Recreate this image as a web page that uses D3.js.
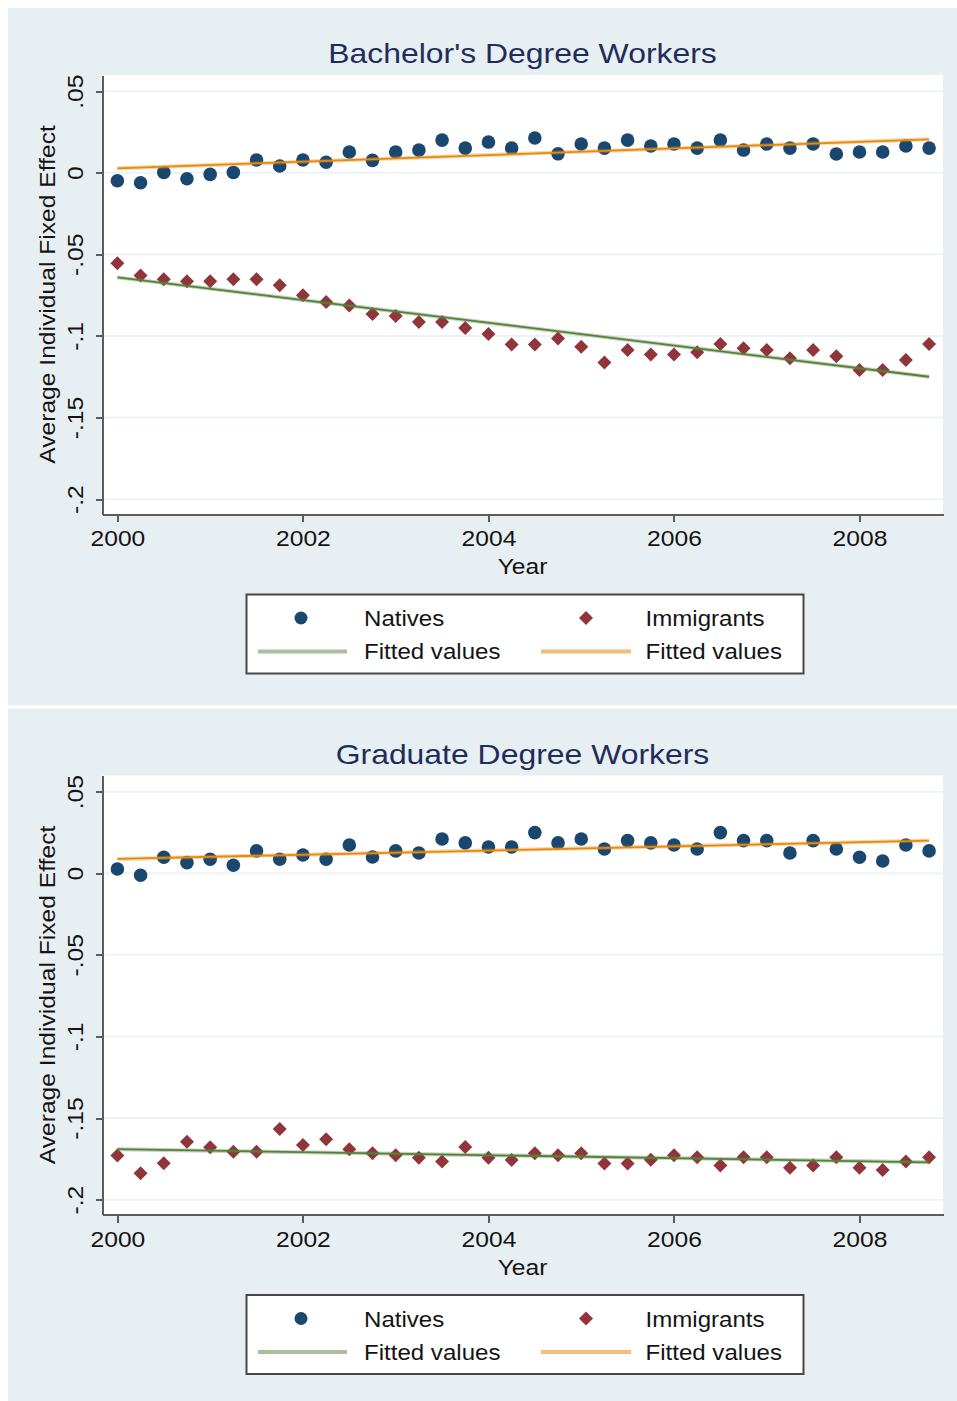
<!DOCTYPE html>
<html>
<head>
<meta charset="utf-8">
<script src="https://cdn.jsdelivr.net/npm/d3@7"></script>
<style>
  html, body { margin: 0; padding: 0; background: #ffffff; }
  svg { display: block; }
</style>
</head>
<body>
<svg id="chart" width="957" height="1401"></svg>
<script>
// Quarterly observation dates
const years = [2000, 2000.25, 2000.5, 2000.75, 2001, 2001.25, 2001.5, 2001.75,
               2002, 2002.25, 2002.5, 2002.75, 2003, 2003.25, 2003.5, 2003.75,
               2004, 2004.25, 2004.5, 2004.75, 2005, 2005.25, 2005.5, 2005.75,
               2006, 2006.25, 2006.5, 2006.75, 2007, 2007.25, 2007.5, 2007.75,
               2008, 2008.25, 2008.5, 2008.75];

const xTicks = [2000, 2002, 2004, 2006, 2008];
const yTicks = [0.05, 0, -0.05, -0.1, -0.15, -0.2];
const yTickLabels = [".05", "0", "-.05", "-.1", "-.15", "-.2"];

const panelTitles = ["Bachelor's Degree Workers", "Graduate Degree Workers"];
const legendLabels = ["Natives", "Immigrants", "Fitted values", "Fitted values"];

// Bachelor's degree workers
const bachelorNatives = [-0.0049, -0.0061, 0.0002, -0.0037, -0.0010, 0.0002, 0.0078, 0.0041,
                         0.0078, 0.0064, 0.0127, 0.0076, 0.0127, 0.0139, 0.0200, 0.0151,
                         0.0188, 0.0151, 0.0213, 0.0116, 0.0176, 0.0151, 0.0200, 0.0164,
                         0.0176, 0.0151, 0.0200, 0.0139, 0.0176, 0.0151, 0.0176, 0.0115,
                         0.0127, 0.0127, 0.0164, 0.0151];
const bachelorImmigrants = [-0.0555, -0.0629, -0.0653, -0.0665, -0.0665, -0.0653, -0.0653, -0.0690,
                            -0.0751, -0.0792, -0.0813, -0.0866, -0.0878, -0.0915, -0.0915, -0.0952,
                            -0.0988, -0.1052, -0.1052, -0.1015, -0.1066, -0.1162, -0.1086, -0.1113,
                            -0.1113, -0.1100, -0.1050, -0.1076, -0.1086, -0.1137, -0.1086, -0.1125,
                            -0.1209, -0.1209, -0.1148, -0.1050];

// Graduate degree workers
const graduateNatives = [0.0026, -0.0012, 0.0098, 0.0065, 0.0086, 0.0049, 0.0137, 0.0086,
                         0.0112, 0.0086, 0.0173, 0.0100, 0.0137, 0.0124, 0.0210, 0.0186,
                         0.0161, 0.0161, 0.0249, 0.0186, 0.0210, 0.0149, 0.0200, 0.0186,
                         0.0173, 0.0149, 0.0249, 0.0200, 0.0200, 0.0124, 0.0200, 0.0149,
                         0.0098, 0.0075, 0.0173, 0.0137];
const graduateImmigrants = [-0.1730, -0.1838, -0.1777, -0.1645, -0.1679, -0.1706, -0.1706, -0.1567,
                            -0.1665, -0.1630, -0.1691, -0.1716, -0.1728, -0.1743, -0.1767, -0.1677,
                            -0.1743, -0.1757, -0.1716, -0.1728, -0.1716, -0.1779, -0.1779, -0.1755,
                            -0.1728, -0.1740, -0.1791, -0.1740, -0.1740, -0.1804, -0.1791, -0.1740,
                            -0.1804, -0.1818, -0.1767, -0.1740];

// Linear fit end points
const fitYears = [2000, 2008.75];
const bachelorNativesFit = [0.0027, 0.0205];
const bachelorImmigrantsFit = [-0.0641, -0.1250];
const graduateNativesFit = [0.0088, 0.0200];
const graduateImmigrantsFit = [-0.1691, -0.1771];

const COLORS = {
  panel: "#e8eff2",
  plot: "#ffffff",
  grid: "#edf3f5",
  axis: "#5c5c5c",
  title: "#1f2d5c",
  text: "#141414",
  natives: "#1a476f",
  immigrants: "#90353b",
  fitGreen: "#55803a",
  fitOrange: "#e8890c"
};
const FONT = "'Liberation Sans', Arial, Helvetica, sans-serif";
const STRETCH = 1.12;

const svg = d3.select("#chart");

function label(g, x, y, s, size, opts = {}) {
  const rot = opts.rotate || 0;
  return g.append("text")
    .attr("transform", `translate(${x},${y}) rotate(${rot}) scale(${STRETCH},1)`)
    .attr("text-anchor", opts.anchor || "middle")
    .attr("font-family", FONT)
    .attr("font-size", size)
    .attr("fill", opts.fill || COLORS.text)
    .text(s);
}

const plotLeft = 102, plotRight = 943, plotTop = 75, plotBottom = 514;

const x = d3.scaleLinear().domain([1999.834, 2008.9]).range([plotLeft, plotRight]);
const y = d3.scaleLinear().domain([-0.2091, 0.0599]).range([plotBottom, plotTop]);

const diamond = d3.symbol().type(d3.symbolSquare).size(98);

function drawPanel(offsetY, panelHeight, title, natives, immigrants, nativesFit, immigrantsFit) {
  const g = svg.append("g").attr("transform", `translate(0,${offsetY})`);

  g.append("rect").attr("x", 8).attr("y", 8).attr("width", 949).attr("height", panelHeight)
    .attr("fill", COLORS.panel);

  label(g, 522.5, 63.3, title, 28.5, { fill: COLORS.title });

  g.append("rect")
    .attr("x", plotLeft).attr("y", plotTop)
    .attr("width", plotRight - plotLeft).attr("height", plotBottom - plotTop)
    .attr("fill", COLORS.plot);

  // horizontal grid lines
  g.append("g").selectAll("line").data(yTicks).join("line")
    .attr("x1", plotLeft).attr("x2", plotRight)
    .attr("y1", d => y(d)).attr("y2", d => y(d))
    .attr("stroke", COLORS.grid).attr("stroke-width", 2);

  // y axis
  const yAxis = g.append("g").attr("transform", `translate(${plotLeft},0)`)
    .call(d3.axisLeft(y).tickValues(yTicks).tickFormat((d, i) => yTickLabels[i])
      .tickSize(6).tickSizeOuter(0));
  yAxis.select(".domain").attr("stroke", COLORS.axis).attr("stroke-width", 2);
  yAxis.selectAll(".tick line").attr("stroke", COLORS.axis).attr("stroke-width", 2);
  yAxis.selectAll(".tick text")
    .attr("x", null).attr("dy", null)
    .attr("transform", `translate(-19,0) rotate(-90) scale(${STRETCH},1)`)
    .attr("text-anchor", "middle")
    .attr("font-family", FONT).attr("font-size", 22).attr("fill", COLORS.text);

  // x axis
  const xAxis = g.append("g").attr("transform", `translate(0,${plotBottom})`)
    .call(d3.axisBottom(x).tickValues(xTicks).tickFormat(d3.format("d"))
      .tickSize(8).tickSizeOuter(0));
  xAxis.select(".domain").attr("stroke", COLORS.axis).attr("stroke-width", 2);
  xAxis.selectAll(".tick line").attr("stroke", COLORS.axis).attr("stroke-width", 2);
  xAxis.selectAll(".tick text")
    .attr("y", null).attr("dy", null)
    .attr("transform", `translate(0,32) scale(${STRETCH},1)`)
    .attr("font-family", FONT).attr("font-size", 22).attr("fill", COLORS.text);
  g.selectAll(".domain, .tick line").attr("shape-rendering", "crispEdges");

  // axis titles
  label(g, 55, (plotTop + plotBottom) / 2, "Average Individual Fixed Effect", 22, { rotate: -90 });
  label(g, (plotLeft + plotRight) / 2, 574, "Year", 22);

  // markers
  g.append("g").selectAll("circle").data(years).join("circle")
    .attr("cx", d => x(d)).attr("cy", (d, i) => y(natives[i]))
    .attr("r", 6.8).attr("fill", COLORS.natives);

  g.append("g").selectAll("path").data(years).join("path")
    .attr("d", diamond)
    .attr("transform", (d, i) => `translate(${x(d)},${y(immigrants[i])}) rotate(45)`)
    .attr("fill", COLORS.immigrants);

  // fitted lines
  const line = d3.line().x(d => x(d[0])).y(d => y(d[1]));
  const fits = [
    { pts: fitYears.map((t, i) => [t, immigrantsFit[i]]), color: COLORS.fitGreen },
    { pts: fitYears.map((t, i) => [t, nativesFit[i]]), color: COLORS.fitOrange }
  ];
  fits.forEach(f => {
    g.append("path").attr("d", line(f.pts)).attr("fill", "none")
      .attr("stroke", f.color).attr("stroke-opacity", 0.35).attr("stroke-width", 4);
    g.append("path").attr("d", line(f.pts)).attr("fill", "none")
      .attr("stroke", f.color).attr("stroke-width", 1.8);
  });

  // legend
  const lg = g.append("g");
  lg.append("rect").attr("x", 246.5).attr("y", 594.5).attr("width", 557).attr("height", 79)
    .attr("fill", "#ffffff").attr("stroke", "#474747").attr("stroke-width", 2);
  lg.append("circle").attr("cx", 301).attr("cy", 618).attr("r", 6.5).attr("fill", COLORS.natives);
  lg.append("path").attr("d", diamond).attr("transform", "translate(586,618) rotate(45)")
    .attr("fill", COLORS.immigrants);
  lg.append("line").attr("x1", 258).attr("x2", 347).attr("y1", 651.5).attr("y2", 651.5)
    .attr("stroke", COLORS.fitGreen).attr("stroke-opacity", 0.5).attr("stroke-width", 4);
  lg.append("line").attr("x1", 541).attr("x2", 631).attr("y1", 651.5).attr("y2", 651.5)
    .attr("stroke", COLORS.fitOrange).attr("stroke-opacity", 0.55).attr("stroke-width", 4);
  label(lg, 364, 626, legendLabels[0], 21.5, { anchor: "start" });
  label(lg, 645.5, 626, legendLabels[1], 21.5, { anchor: "start" });
  label(lg, 364, 659, legendLabels[2], 21.5, { anchor: "start" });
  label(lg, 645.5, 659, legendLabels[3], 21.5, { anchor: "start" });
}

drawPanel(0, 697.5, panelTitles[0], bachelorNatives, bachelorImmigrants,
          bachelorNativesFit, bachelorImmigrantsFit);
drawPanel(700.5, 692.5, panelTitles[1], graduateNatives, graduateImmigrants,
          graduateNativesFit, graduateImmigrantsFit);
</script>
</body>
</html>
